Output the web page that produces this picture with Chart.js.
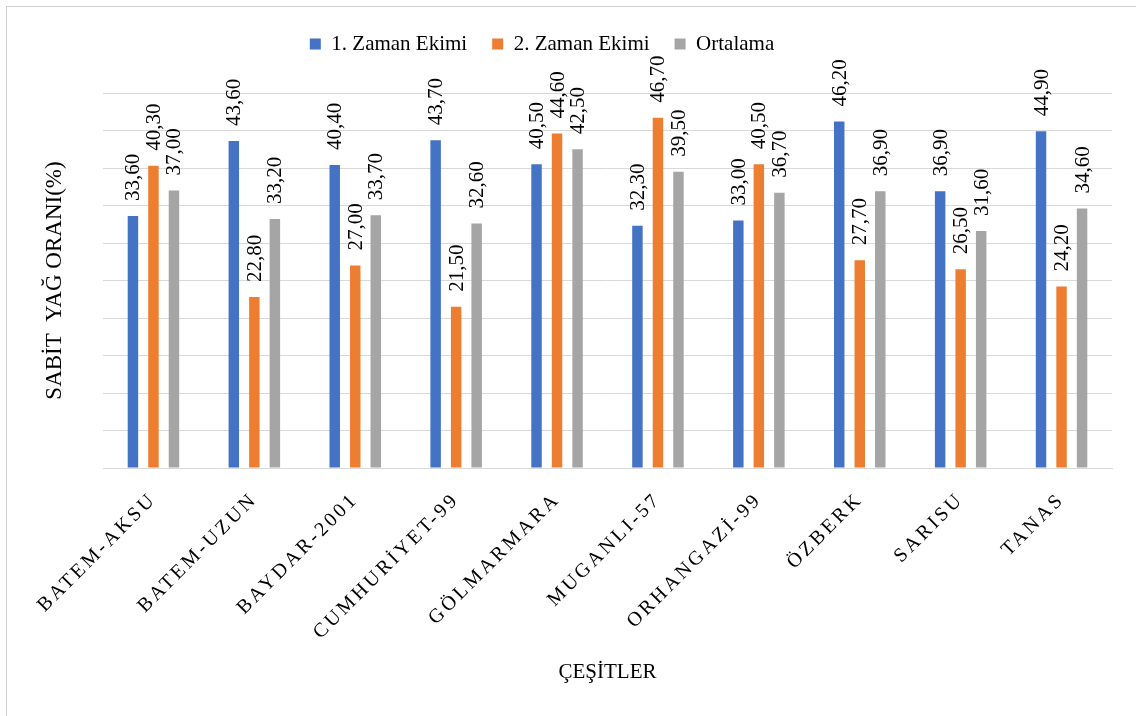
<!DOCTYPE html>
<html>
<head>
<meta charset="utf-8">
<script src="https://cdn.jsdelivr.net/npm/chart.js@4"></script>
<style>
  html, body { margin: 0; padding: 0; background: #fff; }
  #wrap { position: relative; width: 1136px; height: 716px; overflow: hidden; }
  #frame { position: absolute; left: 6px; top: 6px; width: 1200px; height: 800px;
           border-left: 1px solid #d0d0d0; border-top: 1px solid #d0d0d0; pointer-events: none; }
  canvas { position: absolute; left: 0; top: 0; }
</style>
</head>
<body>
<div id="wrap">
  <canvas id="chart" width="1136" height="716"></canvas>
  <div id="frame"></div>
</div>
<script>
const categories = ["BATEM-AKSU", "BATEM-UZUN", "BAYDAR-2001", "CUMHURİYET-99", "GÖLMARMARA",
  "MUGANLI-57", "ORHANGAZİ-99", "ÖZBERK", "SARISU", "TANAS"];
const zaman1 = [33.6, 43.6, 40.4, 43.7, 40.5, 32.3, 33.0, 46.2, 36.9, 44.9];
const zaman2 = [40.3, 22.8, 27.0, 21.5, 44.6, 46.7, 40.5, 27.7, 26.5, 24.2];
const ortalama = [37.0, 33.2, 33.7, 32.6, 42.5, 39.5, 36.7, 36.9, 31.6, 34.6];
const seriesNames = ["1. Zaman Ekimi", "2. Zaman Ekimi", "Ortalama"];
const yTicks = { min: 0, max: 50, step: 5 };

const SERIF = "'Liberation Serif', 'Times New Roman', serif";
const LEGEND_SHIFT = -14;
const LEGEND_GAP = 28.5; // extra room under the legend

// --- value labels above bars, rotated ---
const barLabels = {
  id: "barLabels",
  afterDatasetsDraw(chart) {
    const ctx = chart.ctx;
    ctx.save();
    ctx.font = `21px ${SERIF}`;
    ctx.fillStyle = "#000";
    ctx.textAlign = "left";
    ctx.textBaseline = "middle";
    chart.data.datasets.forEach((ds, i) => {
      chart.getDatasetMeta(i).data.forEach((bar, j) => {
        const txt = ds.data[j].toFixed(2).replace(".", ",");
        ctx.save();
        ctx.translate(bar.x + 1, bar.y - 15);
        ctx.rotate(-Math.PI / 2);
        ctx.fillText(txt, 0, 0);
        ctx.restore();
      });
    });
    ctx.restore();
  }
};

// --- legend gap/offset + letter spaced category labels ---
const tweaks = {
  id: "tweaks",
  beforeLayout(chart) {
    const lg = chart.legend;
    if (lg && !lg._gapPatched) {
      const fit = lg.fit;
      lg.fit = function () {
        fit.call(this);
        this.height += LEGEND_GAP;
      };
      lg._gapPatched = true;
    }
  },
  afterLayout(chart) {
    chart.legend.left += LEGEND_SHIFT;
    chart.legend.right += LEGEND_SHIFT;
    const xs = chart.scales.x;
    if (!xs._spaced) {
      const orig = xs.drawLabels;
      xs.drawLabels = function (area) {
        this.ctx.save();
        this.ctx.letterSpacing = "3px";
        orig.call(this, area);
        this.ctx.restore();
      };
      xs._spaced = true;
    }
  }
};

new Chart(document.getElementById("chart"), {
  type: "bar",
  data: {
    labels: categories,
    datasets: [
      { label: seriesNames[0], data: zaman1, backgroundColor: "#4472C4" },
      { label: seriesNames[1], data: zaman2, backgroundColor: "#ED7D31" },
      { label: seriesNames[2], data: ortalama, backgroundColor: "#A5A5A5" }
    ]
  },
  options: {
    responsive: false,
    animation: false,
    categoryPercentage: 0.61,
    barPercentage: 0.51,
    layout: { padding: { top: 8.5, left: 0, right: 24, bottom: 0 } },
    plugins: {
      tooltip: { enabled: false },
      legend: {
        position: "top",
        labels: {
          boxWidth: 11, boxHeight: 11, padding: 25,
          color: "#000",
          font: { family: SERIF, size: 21 }
        }
      }
    },
    scales: {
      x: {
        grid: { display: false },
        border: { color: "#d9d9d9", width: 1 },
        ticks: {
          color: "#000", minRotation: 45, maxRotation: 45, padding: 12,
          autoSkip: false,
          font: { family: SERIF, size: 20 }
        },
        title: {
          display: true, text: "ÇEŞİTLER", color: "#000",
          font: { family: SERIF, size: 21 },
          padding: { top: 0, bottom: 31 }
        },
        afterFit(scale) { scale.height = 248; }
      },
      y: {
        min: yTicks.min, max: yTicks.max,
        ticks: { display: false, stepSize: yTicks.step },
        grid: { color: "#d9d9d9", drawTicks: false },
        border: { display: false },
        title: {
          display: true, text: "SABİT  YAĞ ORANI(%)", color: "#000",
          font: { family: SERIF, size: 23 },
          padding: { top: 41, bottom: 0 }
        },
        afterFit(scale) { scale.width = 103; }
      }
    }
  },
  plugins: [barLabels, tweaks]
});
</script>
</body>
</html>
